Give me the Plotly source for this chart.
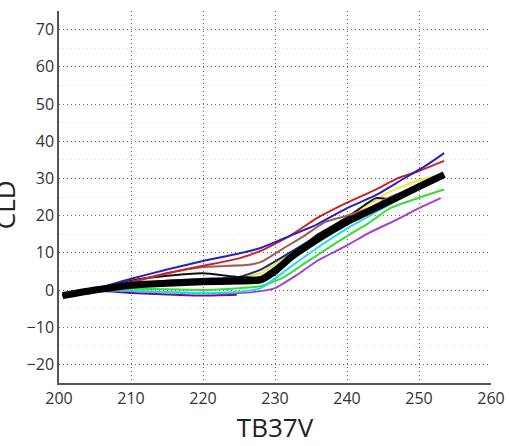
import plotly.graph_objects as go

# ---- data ----
blue_x  = [200.5, 205, 210, 215, 220, 225, 228, 232, 236, 240, 244, 247.5, 251, 253.5]
blue_y  = [-1.5, 0.3, 3.0, 5.5, 7.8, 9.8, 11.3, 14.5, 17.8, 22.0, 25.5, 29.5, 33.5, 36.8]

red_x   = [200.5, 205, 210, 215, 220, 225, 228, 232, 236, 240, 244, 247, 250, 253.5]
red_y   = [-1.5, 0.2, 2.2, 4.5, 6.5, 8.5, 10.5, 14.5, 19.5, 23.5, 27.0, 30.0, 32.0, 34.7]

brown_x = [200.5, 205, 210, 215, 220, 226, 228, 231, 234, 237, 240, 243, 246, 250, 253]
brown_y = [-1.5, 0.2, 2.0, 4.5, 6.2, 6.7, 7.5, 11.0, 14.5, 18.3, 20.0, 22.0, 25.0, 28.0, 30.5]

kthin_x = [200.5, 205, 210, 215, 220, 225, 228, 232, 236, 240, 244, 246, 250, 253]
kthin_y = [-1.5, 0.2, 2.5, 3.8, 4.5, 3.5, 3.5, 9.0, 15.0, 19.5, 24.7, 24.5, 28.0, 31.0]

navy_x  = [200.5, 205, 210, 215, 220, 225, 228, 232, 235, 240, 245, 250, 253]
navy_y  = [-1.5, 0.2, 1.5, 2.5, 3.0, 3.5, 5.5, 10.0, 13.5, 19.0, 23.5, 28.0, 31.0]

yellow_x = [200.5, 205, 210, 215, 220, 225, 228, 232, 236, 240, 243, 246, 250, 253]
yellow_y = [-1.5, 0.0, 1.2, 2.0, 2.5, 3.5, 4.5, 9.5, 14.5, 19.5, 23.0, 26.5, 29.5, 31.0]

cyan_x  = [200.5, 205, 210, 215, 220, 225, 228, 232, 236, 240, 245, 250, 253.5]
cyan_y  = [-1.5, 0.0, -0.2, -0.6, -0.8, -0.5, 0.5, 6.0, 11.5, 16.5, 22.0, 27.5, 31.0]

green_x = [200.5, 205, 210, 215, 220, 225, 228, 231, 234, 237, 240, 243, 246, 250, 253.5]
green_y = [-1.5, 0.0, 0.3, 0.2, 0.0, 0.5, 1.0, 3.2, 7.0, 10.8, 14.5, 18.0, 22.0, 24.8, 27.0]

orchid_x = [200.5, 205, 210, 215, 220, 225, 228, 230, 233, 236, 240, 243, 247, 250, 253]
orchid_y = [-1.5, 0.0, -0.3, -0.6, -0.8, -0.8, -0.3, 0.5, 4.0, 8.0, 12.0, 15.3, 19.0, 22.0, 24.7]

dpurple_x = [200.5, 205, 210, 215, 220, 224.7]
dpurple_y = [-1.5, -0.2, -0.8, -1.2, -1.5, -1.3]

mean_x = [200.5, 205, 210, 215, 220, 225, 228, 230, 232, 235, 240, 245, 250, 253.5]
mean_y = [-1.5, 0.0, 1.3, 1.8, 2.2, 2.4, 2.7, 5.0, 8.5, 12.5, 18.3, 23.0, 27.8, 31.0]

x_ticks = [200, 210, 220, 230, 240, 250, 260]
y_ticks = [-20, -10, 0, 10, 20, 30, 40, 50, 60, 70]

series = [
    (dpurple_x, dpurple_y, "#6a0f9a", 2),
    (orchid_x, orchid_y, "#a43fd6", 2),
    (green_x, green_y, "#33e033", 2),
    (cyan_x, cyan_y, "#22dede", 2),
    (yellow_x, yellow_y, "#f2e63a", 2),
    (navy_x, navy_y, "#1c2a7a", 2),
    (kthin_x, kthin_y, "#111111", 2),
    (brown_x, brown_y, "#a05a55", 2),
    (red_x, red_y, "#d02020", 2),
    (blue_x, blue_y, "#2222c8", 2),
]

fig = go.Figure()
for xs, ys, c, w in series:
    fig.add_trace(go.Scatter(x=xs, y=ys, mode="lines",
                             line=dict(color=c, width=w, shape="spline", smoothing=0.5),
                             showlegend=False, hoverinfo="skip"))
fig.add_trace(go.Scatter(x=mean_x, y=mean_y, mode="lines",
                         line=dict(color="black", width=7, shape="spline", smoothing=0.5),
                         showlegend=False, hoverinfo="skip"))

font_family = "Open Sans, Noto Sans, Liberation Sans, sans-serif"
grid_dash = "1px,3px"

fig.update_layout(
    width=509, height=446,
    margin=dict(l=59, r=18, t=11, b=63),
    paper_bgcolor="white", plot_bgcolor="white",
    font=dict(family=font_family, color="#333333"),
    xaxis=dict(
        range=[200, 260], tickvals=x_ticks, ticktext=[str(v) for v in x_ticks],
        showgrid=True, gridcolor="#666666", griddash=grid_dash, gridwidth=1,
        showline=True, linecolor="#555555", linewidth=1.5, zeroline=False,
        ticks="", tickfont=dict(size=16, color="#333333"), automargin=False,
        title=dict(text="TB37V", font=dict(size=26, color="#222222"), standoff=2),
    ),
    yaxis=dict(
        range=[-25, 75], tickvals=y_ticks, ticktext=[str(v).replace("-", "\u2212") for v in y_ticks],
        showgrid=True, gridcolor="#666666", griddash=grid_dash, gridwidth=1,
        showline=True, linecolor="#555555", linewidth=1.5, zeroline=False,
        ticks="", tickfont=dict(size=16, color="#333333"), automargin=False,
        minor=dict(dtick=5, showgrid=True, gridcolor="#dddddd", griddash=grid_dash, gridwidth=1),
    ),
    annotations=[dict(
        text="CLD", textangle=-90, xref="paper", yref="paper",
        x=-0.125, y=0.478, xanchor="center", yanchor="middle", showarrow=False,
        font=dict(size=26, color="#222222", family=font_family),
    )],
)

fig.write_html("out.html", config={"displayModeBar": False},
               post_script="document.body.style.margin='0px';document.body.style.overflow='hidden';")
